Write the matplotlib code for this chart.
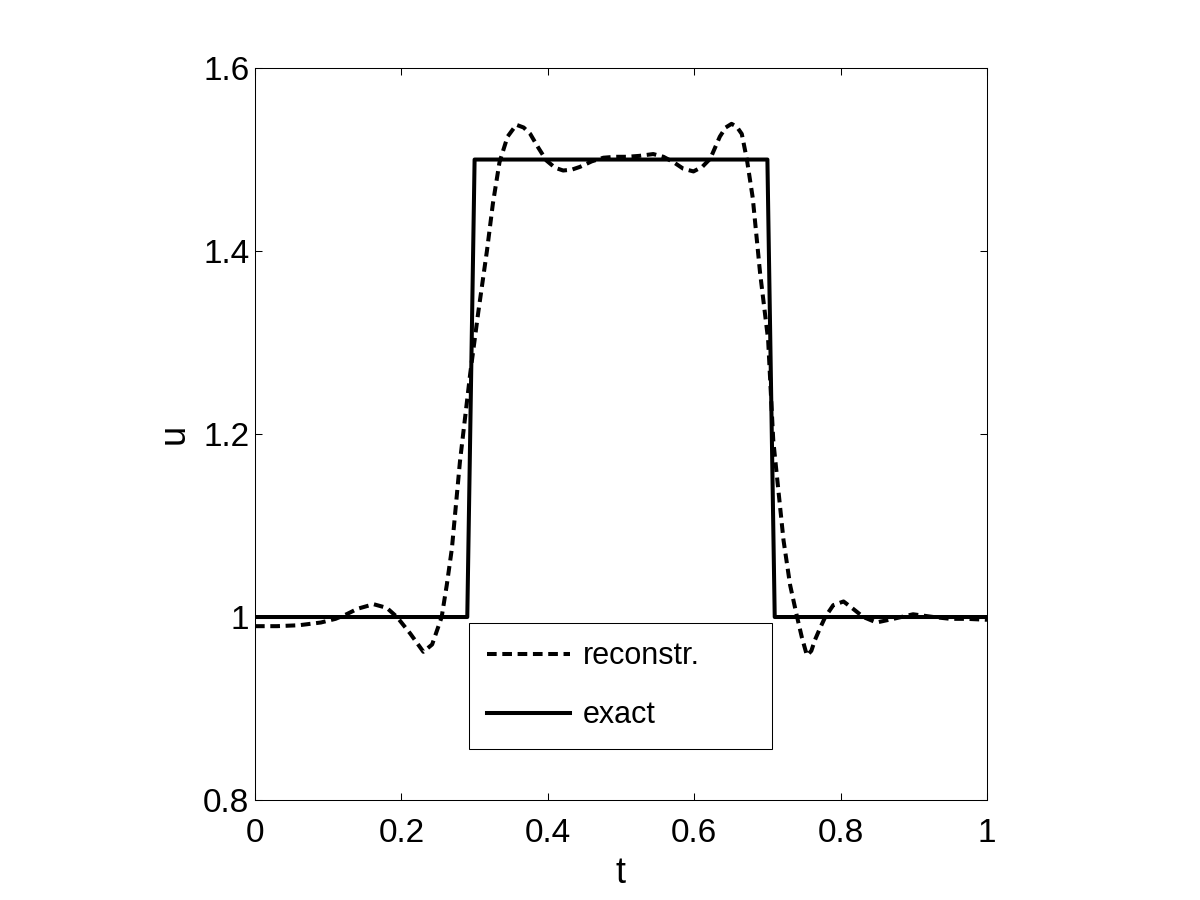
import matplotlib
matplotlib.use("Agg")
import matplotlib.pyplot as plt

# reconstructed signal (dashed)
t_rec = [0, 0.03, 0.06, 0.09, 0.11, 0.125, 0.14, 0.162, 0.18, 0.194,
         0.212, 0.23, 0.242, 0.255, 0.262, 0.269, 0.28, 0.294, 0.305, 0.317,
         0.325, 0.334, 0.345, 0.357, 0.367, 0.376, 0.387, 0.398, 0.41, 0.421,
         0.433, 0.444, 0.46, 0.476, 0.492, 0.508, 0.525, 0.544, 0.558, 0.572,
         0.585, 0.599, 0.611, 0.622, 0.635, 0.643, 0.651, 0.658, 0.665, 0.672,
         0.68, 0.69, 0.701, 0.708, 0.722, 0.731, 0.74, 0.747, 0.754, 0.76,
         0.765, 0.772, 0.779, 0.79, 0.804, 0.817, 0.831, 0.849, 0.872, 0.899,
         0.927, 0.95, 0.972, 1.0]
u_rec = [0.990, 0.990, 0.991, 0.994, 0.998, 1.003, 1.009, 1.014, 1.010, 1.000,
         0.982, 0.962, 0.970, 1.000, 1.035, 1.075, 1.170, 1.266, 1.333, 1.401,
         1.452, 1.497, 1.525, 1.538, 1.535, 1.528, 1.513, 1.499, 1.491, 1.488,
         1.489, 1.492, 1.498, 1.502, 1.503, 1.503, 1.504, 1.506, 1.503, 1.497,
         1.490, 1.487, 1.492, 1.501, 1.525, 1.535, 1.539, 1.536, 1.528, 1.500,
         1.458, 1.376, 1.303, 1.193, 1.084, 1.035, 1.002, 0.978, 0.958, 0.963,
         0.975, 0.988, 1.000, 1.013, 1.017, 1.009, 1.000, 0.994, 0.998, 1.003,
         1.000, 0.998, 0.998, 0.997]

# exact step profile
t_ex = [0, 0.29, 0.30, 0.70, 0.71, 1.0]
u_ex = [1.0, 1.0, 1.5, 1.5, 1.0, 1.0]

plt.rcParams['font.family'] = ['Liberation Sans', 'DejaVu Sans']

fig = plt.figure(figsize=(12, 9), dpi=100)
ax = fig.add_axes([0.2125, 0.1111, 0.61, 0.8133])

ax.plot(t_rec, u_rec, color='black', lw=2.9, linestyle=(0, (2.4, 1.4)),
        label='reconstr.')
ax.plot(t_ex, u_ex, color='black', lw=2.9, label='exact')

ax.set_xlim(0, 1)
ax.set_ylim(0.8, 1.6)
ax.set_xticks([0, 0.2, 0.4, 0.6, 0.8, 1])
ax.set_xticklabels(['0', '0.2', '0.4', '0.6', '0.8', '1'])
ax.set_yticks([0.8, 1.0, 1.2, 1.4, 1.6])
ax.set_yticklabels(['0.8', '1', '1.2', '1.4', '1.6'])
ax.tick_params(direction='in', length=5.3, width=0.75, labelsize=24,
               top=True, right=True)
ax.tick_params(axis='x', pad=13)
ax.tick_params(axis='y', pad=4)
for s in ax.spines.values():
    s.set_linewidth(0.75)

ax.set_xlabel('t', fontsize=26, labelpad=5)
ax.set_ylabel('u', fontsize=26, labelpad=8)

leg = ax.legend(loc='upper left', bbox_to_anchor=(0.292, 0.0683, 0.414, 0.1735),
                mode='expand', fontsize=22, frameon=True, fancybox=False,
                framealpha=1, edgecolor='black', handlelength=2.7,
                handletextpad=0.42, labelspacing=0.95, borderpad=0.6,
                borderaxespad=0)
leg.get_frame().set_linewidth(0.75)

fig.savefig('out.png', dpi=100)
